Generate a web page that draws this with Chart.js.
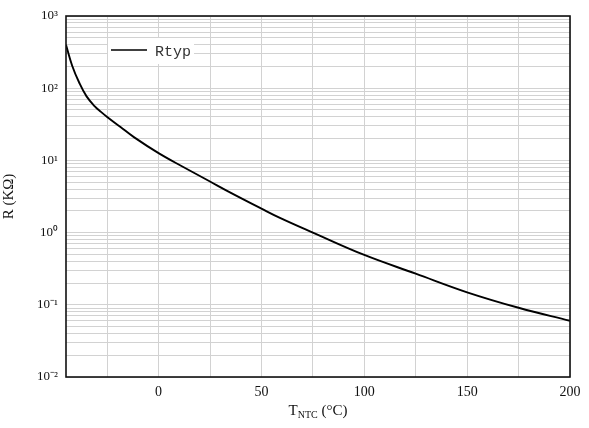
<!DOCTYPE html>
<html>
<head>
<meta charset="utf-8">
<script src="https://cdn.jsdelivr.net/npm/chart.js@4"></script>
<style>
  html, body { margin: 0; padding: 0; background: #fff; }
  #wrap { width: 589px; height: 428px; }
</style>
</head>
<body>
<div id="wrap"><canvas id="ntc_chart"></canvas></div>
<script>
// temperature (°C) and typical resistance (kΩ)
const temps = [-45, -42, -38.5, -35, -31, -28, -25, -18.5, -12, 0, 12, 25, 34, 50, 59, 75, 100, 125, 150, 175, 200]
const rtyp = [400, 205, 118, 77, 56, 47, 40, 29, 21, 12.6, 8.1, 5.1, 3.7, 2.15, 1.6, 1.0, 0.49, 0.27, 0.149, 0.091, 0.060]
const xGrid = [-25, 0, 25, 50, 75, 100, 125, 150, 175, 200]
const xLabels = [0, 50, 100, 150, 200]
const decades = [-2, -1, 0, 1, 2, 3]

const sup = { '-': '⁻', '0': '⁰', '1': '¹', '2': '²', '3': '³', '4': '⁴', '5': '⁵', '6': '⁶', '7': '⁷', '8': '⁸', '9': '⁹' }
const serif = '"Liberation Serif", "Times New Roman", serif'

const points = temps.map((t, i) => ({ x: t, y: rtyp[i] }))

// frame, legend box and x title with subscript
const extras = {
    id: 'extras',
    afterDatasetsDraw(chart) {
        const { ctx, chartArea: a } = chart
        ctx.save()
        ctx.strokeStyle = '#111'
        ctx.lineWidth = 1.6
        ctx.strokeRect(a.left, a.top, a.right - a.left, a.bottom - a.top)

        // legend
        ctx.fillStyle = '#fff'
        ctx.fillRect(a.left + 42, a.top + 22, 86, 26)
        ctx.strokeStyle = '#000'
        ctx.lineWidth = 1.6
        ctx.beginPath()
        ctx.moveTo(a.left + 45, a.top + 34)
        ctx.lineTo(a.left + 81, a.top + 34)
        ctx.stroke()
        ctx.fillStyle = '#333'
        ctx.font = '15px "Liberation Mono", monospace'
        ctx.textBaseline = 'alphabetic'
        ctx.fillText(chart.data.datasets[0].label, a.left + 89, a.top + 40)

        // x title: T_NTC (°C)
        const big = '15px ' + serif
        const small = '10px ' + serif
        ctx.fillStyle = '#111'
        ctx.font = big
        const w1 = ctx.measureText('T').width
        const w3 = ctx.measureText(' (°C)').width
        ctx.font = small
        const w2 = ctx.measureText('NTC').width
        let x = (a.left + a.right) / 2 - (w1 + w2 + w3) / 2
        const y = 415
        ctx.font = big
        ctx.fillText('T', x, y)
        x += w1
        ctx.font = small
        ctx.fillText('NTC', x, y + 3)
        x += w2
        ctx.font = big
        ctx.fillText(' (°C)', x, y)
        ctx.restore()
    }
}

const ctx = document.getElementById('ntc_chart').getContext('2d')

new Chart(ctx, {
    type: 'line',
    data: {
        datasets: [{
            label: 'Rtyp',
            data: points,
            borderColor: '#000',
            borderWidth: 1.9,
            pointRadius: 0,
            fill: false,
            tension: 0.4
        }]
    },
    options: {
        responsive: true,
        maintainAspectRatio: false,
        animation: false,
        layout: { padding: { top: 16, right: 19, left: 0, bottom: 0 } },
        scales: {
            x: {
                type: 'linear',
                min: -45,
                max: 200,
                afterBuildTicks: s => { s.ticks = xGrid.map(v => ({ value: v })) },
                afterFit: s => { s.height = 51 },
                grid: { color: '#d2d2d2', lineWidth: 1, drawTicks: false },
                border: { display: false },
                ticks: {
                    padding: 7,
                    color: '#111',
                    font: { family: serif, size: 14 },
                    maxRotation: 0,
                    autoSkip: false,
                    callback: v => xLabels.includes(v) ? String(v) : ''
                }
            },
            y: {
                type: 'logarithmic',
                min: 0.01,
                max: 1000,
                afterBuildTicks: s => {
                    const t = []
                    decades.forEach(e => {
                        for (let m = 1; m <= 9; m++) {
                            if (e === 3 && m > 1) break
                            t.push({ value: Number((m * Math.pow(10, e)).toPrecision(3)) })
                        }
                    })
                    s.ticks = t
                },
                afterFit: s => { s.width = 66 },
                grid: { color: '#d2d2d2', lineWidth: 1, drawTicks: false },
                border: { display: false },
                title: {
                    display: true,
                    text: 'R (KΩ)',
                    color: '#111',
                    font: { family: serif, size: 15 },
                    padding: { top: 0, bottom: 2 }
                },
                ticks: {
                    padding: 8,
                    color: '#111',
                    font: { family: serif, size: 13 },
                    autoSkip: false,
                    callback: v => {
                        const e = Math.round(Math.log10(v))
                        if (Math.abs(v - Math.pow(10, e)) > 1e-9 * Math.pow(10, e)) return ''
                        return '10' + String(e).split('').map(c => sup[c]).join('')
                    }
                }
            }
        },
        plugins: {
            legend: { display: false },
            tooltip: { enabled: false }
        }
    },
    plugins: [extras]
})
</script>
</body>
</html>
